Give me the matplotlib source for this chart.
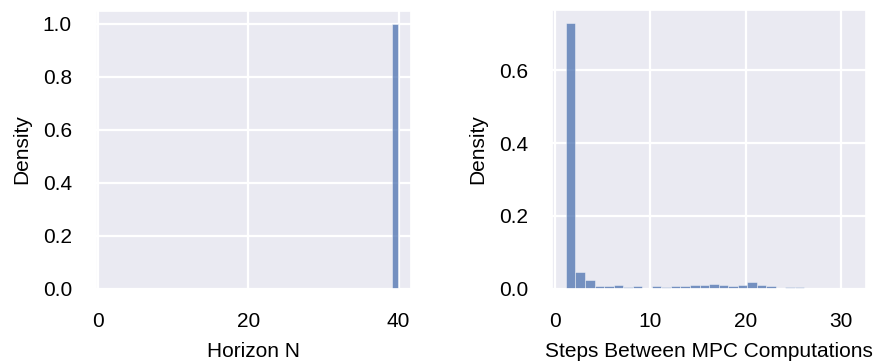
import matplotlib
matplotlib.use("Agg")
import matplotlib.pyplot as plt
import numpy as np
import seaborn as sns

# Horizon N histogram: a single occupied bin
horizon_left = [39.1]
horizon_width = 0.85
horizon_density = [1.0]

# Steps between MPC computations: 30 bins of width 1
steps_start = 1.15
steps_density = [0.730, 0.045, 0.023, 0.0063, 0.0063, 0.009, 0.0036, 0.0063,
                 0.0, 0.0063, 0.0036, 0.0063, 0.0063, 0.009, 0.009, 0.013,
                 0.009, 0.0063, 0.011, 0.0173, 0.009, 0.0082, 0.0, 0.0036,
                 0.0036, 0.0, 0.0, 0.0, 0.0, 0.0]

sns.set_theme(style="darkgrid")
plt.rcParams["font.family"] = ["Liberation Sans", "DejaVu Sans"]
plt.rcParams["grid.linewidth"] = 1.6
plt.rcParams["text.color"] = "black"
plt.rcParams["axes.labelcolor"] = "black"
plt.rcParams["xtick.color"] = "black"
plt.rcParams["ytick.color"] = "black"

bar_color = "#4c72b0"

fig = plt.figure(figsize=(8.77, 3.63), dpi=100)
ax1 = fig.add_axes([0.109, 0.205, 0.36, 0.766])
ax2 = fig.add_axes([0.629, 0.205, 0.359, 0.768])

ax1.bar(horizon_left, horizon_density, width=horizon_width, align="edge",
        color=bar_color, alpha=0.75, edgecolor="white", linewidth=0.4)
ax1.set_xlim(-0.35, 41.7)
ax1.set_xticks([0, 20, 40])
ax1.set_yticks([0.0, 0.2, 0.4, 0.6, 0.8, 1.0])
ax1.set_xlabel("Horizon N", fontsize=15, labelpad=8)
ax1.set_ylabel("Density", fontsize=15, labelpad=8)

edges = steps_start + np.arange(len(steps_density))
ax2.bar(edges, steps_density, width=1.0, align="edge",
        color=bar_color, alpha=0.75, edgecolor="white", linewidth=0.4)
ax2.set_xticks([0, 10, 20, 30])
ax2.set_yticks([0.0, 0.2, 0.4, 0.6])
ax2.set_xlabel("Steps Between MPC Computations", fontsize=15, labelpad=8)
ax2.set_ylabel("Density", fontsize=15, labelpad=8)

for ax in (ax1, ax2):
    ax.tick_params(axis="both", labelsize=15, pad=17, length=0)

fig.savefig("out.png", dpi=100)
